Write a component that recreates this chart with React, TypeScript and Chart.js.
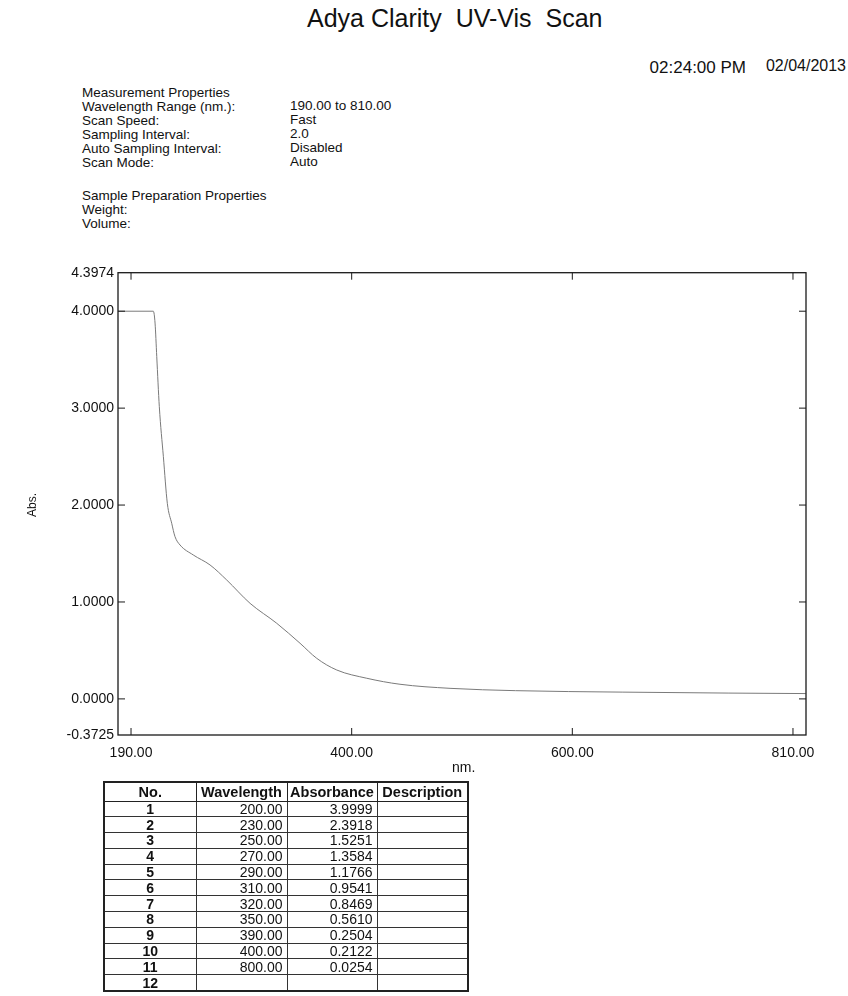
import React, { useEffect, useRef } from "react";
import { Chart, registerables } from "chart.js";

Chart.register(...registerables);

// ---- data ----
const scanWavelengths = [178, 210.9, 212.5, 214.1, 216.5, 220.3, 224.0, 228.1, 231.2, 235.9, 248.3, 264.0, 279.6, 301.5, 326.5, 348.3, 363.9, 382.7, 410.8, 441.9, 488.8, 550, 650, 750, 822];
const scanAbsorbance = [4.0, 4.0, 3.878, 3.531, 3.015, 2.499, 2.018, 1.812, 1.674, 1.588, 1.485, 1.382, 1.227, 0.986, 0.78, 0.574, 0.419, 0.298, 0.213, 0.151, 0.109, 0.085, 0.07, 0.06, 0.055];

const xTickPositions = [190, 396.67, 603.33, 810];
const xTickLabels = ["190.00", "400.00", "600.00", "810.00"];
const yTickValues = [-0.3725, 0, 1, 2, 3, 4, 4.3974];
const yTickMarks = [0, 1, 2, 3, 4];

const tableHeaders = ["No.", "Wavelength", "Absorbance", "Description"];
const tableNo = [1, 2, 3, 4, 5, 6, 7, 8, 9, 10, 11, 12];
const tableWavelength = ["200.00", "230.00", "250.00", "270.00", "290.00", "310.00", "320.00", "350.00", "390.00", "400.00", "800.00", ""];
const tableAbsorbance = ["3.9999", "2.3918", "1.5251", "1.3584", "1.1766", "0.9541", "0.8469", "0.5610", "0.2504", "0.2122", "0.0254", ""];

const propLabels = ["Wavelength Range (nm.):", "Scan Speed:", "Sampling Interval:", "Auto Sampling Interval:", "Scan Mode:"];
const propValues = ["190.00 to 810.00", "Fast", "2.0", "Disabled", "Auto"];

const FONT = "Arial, 'Liberation Sans', sans-serif";

const framePlugin = {
  id: "frameTicks",
  afterDatasetsDraw(chart: any) {
    const { ctx, chartArea: a, scales } = chart;
    ctx.save();
    ctx.strokeStyle = "#1a1a1a";
    ctx.lineWidth = 1.3;
    ctx.strokeRect(a.left, a.top, a.right - a.left, a.bottom - a.top);
    ctx.lineWidth = 1;
    const t = 7;
    const line = (x1: number, y1: number, x2: number, y2: number) => {
      ctx.beginPath();
      ctx.moveTo(x1, y1);
      ctx.lineTo(x2, y2);
      ctx.stroke();
    };
    for (const v of yTickMarks) {
      const y = scales.y.getPixelForValue(v);
      line(a.left, y, a.left + t, y);
      line(a.right, y, a.right - t, y);
    }
    for (const v of xTickPositions) {
      const x = scales.x.getPixelForValue(v);
      line(x, a.bottom, x, a.bottom - t);
      line(x, a.top, x, a.top + t);
    }
    ctx.restore();
  },
};

function ScanChart() {
  const ref = useRef<HTMLCanvasElement | null>(null);
  useEffect(() => {
    if (!ref.current) return;
    const chart = new Chart(ref.current, {
      type: "scatter",
      data: {
        datasets: [
          {
            data: scanWavelengths.map((w, i) => ({ x: w, y: scanAbsorbance[i] })),
            showLine: true,
            borderColor: "#7a7a7a",
            borderWidth: 1,
            pointRadius: 0,
            cubicInterpolationMode: "monotone",
          } as any,
        ],
      },
      options: {
        animation: false,
        responsive: false,
        layout: { padding: { left: 0, right: 42, top: 22.7, bottom: 0 } },
        plugins: { legend: { display: false }, tooltip: { enabled: false } },
        scales: {
          x: {
            type: "linear",
            min: 177.8,
            max: 822.2,
            grid: { display: false, drawTicks: false },
            border: { display: false },
            afterBuildTicks: (s: any) => {
              s.ticks = xTickPositions.map((v) => ({ value: v }));
            },
            afterFit: (s: any) => {
              s.height = 35;
            },
            ticks: {
              autoSkip: false,
              maxRotation: 0,
              padding: 10,
              color: "#111",
              font: { family: FONT, size: 14 },
              callback: (_v: any, i: number) => xTickLabels[i],
            },
          },
          y: {
            type: "linear",
            min: -0.3725,
            max: 4.3974,
            grid: { display: false, drawTicks: false },
            border: { display: false },
            afterBuildTicks: (s: any) => {
              s.ticks = yTickValues.map((v) => ({ value: v }));
            },
            afterFit: (s: any) => {
              s.width = 118;
            },
            ticks: {
              autoSkip: false,
              padding: 4,
              color: "#111",
              font: { family: FONT, size: 14 },
              callback: (v: any) => Number(v).toFixed(4),
            },
          },
        },
      },
      plugins: [framePlugin],
    });
    return () => chart.destroy();
  }, []);
  return <canvas ref={ref} width={848} height={520} style={{ width: 848, height: 520, display: "block" }} />;
}

const abs = (left: number, top: number, size: number, extra: React.CSSProperties = {}): React.CSSProperties => ({
  position: "absolute",
  left,
  top,
  fontSize: size,
  lineHeight: `${size}px`,
  whiteSpace: "pre",
  color: "#111",
  ...extra,
});

export default function App() {
  const cell: React.CSSProperties = {
    border: "1px solid #333",
    height: 14.8,
    padding: "0 4px",
    lineHeight: "14px",
    overflow: "hidden",
    whiteSpace: "nowrap",
  };
  const colW = [92, 91, 90, 91];
  return (
    <div
      style={{
        position: "absolute",
        left: 0,
        top: 0,
        width: 848,
        height: 996,
        background: "#fff",
        fontFamily: FONT,
        overflow: "hidden",
      }}
    >
      <div style={abs(307, 6, 25)}>Adya Clarity  UV-Vis  Scan</div>
      <div style={abs(0, 59, 17, { width: 746, textAlign: "right" })}>02:24:00 PM</div>
      <div style={abs(0, 58, 16, { width: 846, textAlign: "right" })}>02/04/2013</div>

      <div style={abs(82, 86, 13.5)}>Measurement Properties</div>
      {propLabels.map((l, i) => (
        <div key={l} style={abs(82, 100 + i * 14, 13.5)}>{l}</div>
      ))}
      {propValues.map((v, i) => (
        <div key={v} style={abs(290, 99 + i * 14, 13.5)}>{v}</div>
      ))}
      <div style={abs(82, 189, 13.5)}>Sample Preparation Properties</div>
      <div style={abs(82, 203, 13.5)}>Weight:</div>
      <div style={abs(82, 217, 13.5)}>Volume:</div>

      <div style={{ position: "absolute", left: 0, top: 250 }}>
        <ScanChart />
      </div>

      <div style={abs(14, 499, 12, { transform: "rotate(-90deg)", transformOrigin: "center", width: 36, textAlign: "center" })}>Abs.</div>
      <div style={abs(452, 760, 14)}>nm.</div>

      <table
        style={{
          position: "absolute",
          left: 103,
          top: 781,
          width: 365,
          tableLayout: "fixed",
          borderCollapse: "collapse",
          border: "2px solid #222",
          fontSize: 14,
          fontFamily: FONT,
          color: "#111",
        }}
      >
        <colgroup>
          {colW.map((w, i) => (
            <col key={i} style={{ width: w }} />
          ))}
        </colgroup>
        <thead>
          <tr>
            {tableHeaders.map((h) => (
              <th key={h} style={{ ...cell, height: 17.5, padding: "0 2px", fontSize: 14.5, textAlign: "center", fontWeight: "bold", border: "1.5px solid #222" }}>
                {h}
              </th>
            ))}
          </tr>
        </thead>
        <tbody>
          {tableNo.map((n, i) => (
            <tr key={n}>
              <td style={{ ...cell, textAlign: "center", fontWeight: "bold" }}>{n}</td>
              <td style={{ ...cell, textAlign: "right" }}>{tableWavelength[i]}</td>
              <td style={{ ...cell, textAlign: "right" }}>{tableAbsorbance[i]}</td>
              <td style={cell}></td>
            </tr>
          ))}
        </tbody>
      </table>
    </div>
  );
}
